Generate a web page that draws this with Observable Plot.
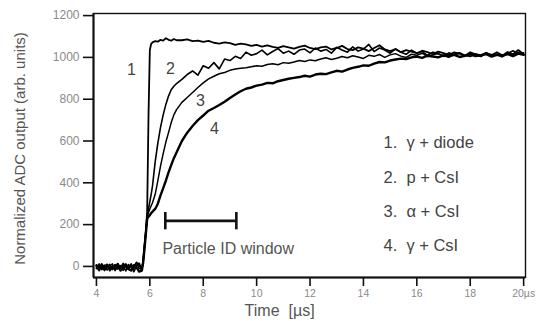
<!DOCTYPE html>
<html><head><meta charset="utf-8">
<script src="https://cdn.jsdelivr.net/npm/d3@7"></script>
<script src="https://cdn.jsdelivr.net/npm/@observablehq/plot@0.6"></script>
<style>body{margin:0;background:#fff;} #chart svg{display:block;}</style>
</head><body><div id="chart"></div>
<script>
// Sample times (µs)
const time = [
  4.0,4.1,4.2,4.3,4.4,4.5,4.6,4.7,4.8,4.9,5.0,5.1,5.2,5.3,5.4,5.5,5.6,
  5.7,5.75,5.8,5.85,5.9,5.95,6.0,6.05,6.1,6.2,6.3,6.4,6.5,6.6,6.7,6.8,6.9,7.0,
  7.2,7.4,7.6,7.8,8.0,8.2,8.4,8.6,8.8,9.0,
  9.2,9.4,9.6,9.8,10.0,10.2,10.4,10.6,10.8,11.0,
  11.2,11.4,11.6,11.8,12.0,12.2,12.4,12.6,12.8,13.0,
  13.2,13.4,13.6,13.8,14.0,14.2,14.4,14.6,14.8,15.0,
  15.2,15.4,15.6,15.8,16.0,16.2,16.4,16.6,16.8,17.0,
  17.2,17.4,17.6,17.8,18.0,18.2,18.4,18.6,18.8,19.0,
  19.2,19.4,19.6,19.8,20.0
];
// 1. gamma + diode
const gammaDiode = [
  -10,5,-15,0,10,-20,-5,8,-12,3,-18,6,-8,12,-25,4,15,
  -15,30,100,170,260,720,1035,1065,1072,1078,1075,1084,1080,1092,1084,1080,1088,1082,
  1082,1086,1078,1080,1074,1079,1070,1066,1072,1068,
  1060,1066,1062,1055,1060,1052,1058,1050,1046,1054,
  1048,1042,1050,1056,1045,1040,1048,1052,1038,1045,
  1055,1040,1035,1048,1042,1030,1045,1058,1038,1030,
  1040,1025,1035,1028,1020,1032,1025,1015,1028,1020,
  1012,1024,1018,1008,1020,1014,1005,1022,1010,1016,
  1008,1026,1015,1035,1015
];
// 2. p + CsI
const protonCsI = [
  8,-12,3,-20,-2,10,-15,0,14,-10,5,-22,9,-5,2,18,-10,
  -12,25,95,165,240,275,310,345,385,500,590,665,725,775,815,845,862,875,
  895,918,935,915,960,948,975,945,992,985,
  1005,995,1025,1010,1018,1035,1012,1028,1042,1020,
  1030,1015,1035,1040,1022,1045,1030,1038,1020,1048,
  1035,1025,1050,1030,1040,1062,1028,1045,1035,1020,
  1040,1025,1015,1035,1020,1028,1010,1025,1018,1005,
  1022,1012,1020,1008,1025,1015,1005,1020,1012,1025,
  1010,1018,1032,1015,1022
];
// 3. alpha + CsI
const alphaCsI = [
  -5,12,-8,6,-18,2,12,-20,4,-6,15,-3,-15,8,-10,20,5,
  -18,22,90,160,235,258,275,290,305,345,410,480,540,595,640,688,725,750,
  785,808,832,856,878,897,910,922,928,938,
  944,948,950,955,960,958,966,970,965,975,
  972,978,985,980,988,984,992,998,990,996,
  1004,998,1008,1002,995,1010,1005,1014,1000,1012,
  1018,1006,1000,1015,1010,1020,1004,1012,1018,1008,
  1000,1015,1022,1010,1004,1016,1012,1022,1006,1014,
  1002,1018,1010,1024,1012
];
// 4. gamma + CsI
const gammaCsI = [
  3,-18,10,-10,6,-8,0,-14,10,-20,0,10,-12,-20,6,-5,-25,
  -20,18,85,155,228,238,245,255,262,275,300,340,375,410,450,485,518,545,
  600,640,672,700,722,745,758,772,788,806,
  822,838,850,856,865,870,878,876,886,892,
  898,902,906,912,908,918,922,920,928,936,
  932,942,950,955,962,960,970,978,976,985,
  990,994,992,1000,1004,998,1008,1004,1000,1010,
  1006,1012,1002,1008,1014,1006,1010,1016,1004,1012,
  1008,1016,1006,1018,1012
];

const xTicks = [4, 6, 8, 10, 12, 14, 16, 18, 20];
const yTicks = [0, 200, 400, 600, 800, 1000, 1200];

const curveNumbers = ["1", "2", "3", "4"];
const curveNumberT = [5.31, 6.77, 7.9, 8.42];
const curveNumberV = [938, 947, 794, 660];

const legendItems = ["1.  \u03b3 + diode", "2.  p + CsI", "3.  \u03b1 + CsI", "4.  \u03b3 + CsI"];
const legendT = [14.75, 14.75, 14.75, 14.75];
const legendV = [590, 422, 263, 100];

const windowRange = [6.58, 9.24];
const windowLevel = 218;
const windowCap = [175, 258];
const windowText = "Particle ID window";

const series = [
  {name: "1", values: gammaDiode, w: 1.8},
  {name: "2", values: protonCsI, w: 1.6},
  {name: "3", values: alphaCsI, w: 1.5},
  {name: "4", values: gammaCsI, w: 2.4}
];

const x0 = 3.89, x1 = 20.07, y0 = -53, y1 = 1210;
const font = "'Liberation Sans', Arial, sans-serif";

const lineMarks = series.map(s =>
  Plot.line(time.map((t, i) => ({t, v: s.values[i]})), {x: "t", y: "v", stroke: "#000", strokeWidth: s.w, strokeLinejoin: "round"})
);

const chart = Plot.plot({
  width: 540, height: 321,
  marginLeft: 93, marginRight: 15, marginTop: 13, marginBottom: 44,
  x: {domain: [x0, x1]},
  y: {domain: [y0, y1]},
  style: {fontFamily: font, background: "#fff", overflow: "visible"},
  marks: [
    Plot.frame({stroke: "#111", strokeWidth: 1.4}),
    ...lineMarks,
    Plot.ruleX([x0], {stroke: "#111", strokeWidth: 2}),
    Plot.ruleY([y0], {stroke: "#111", strokeWidth: 2}),
    Plot.axisX({ticks: xTicks, tickSize: 9, tickPadding: 3, tickFormat: d => d === 20 ? "20\u00b5s" : String(d), fontSize: 10.5, fill: "#8a8a8a", stroke: "#111", strokeWidth: 1.6, label: null}),
    Plot.axisY({ticks: yTicks, tickSize: 10, tickPadding: 4, tickFormat: d => String(d), fontSize: 12, fill: "#8a8a8a", stroke: "#111", strokeWidth: 1.6, label: null}),
    Plot.text(["Time  [\u00b5s]"], {x: [10.86], frameAnchor: "bottom", dy: 38, fontSize: 16, fill: "#555"}),
    Plot.text(["Normalized ADC output (arb. units)"], {frameAnchor: "left", textAnchor: "middle", dx: -73, dy: 3, rotate: -90, fontSize: 15, fill: "#555"}),
    Plot.text(curveNumbers, {x: (d, i) => curveNumberT[i], y: (d, i) => curveNumberV[i], text: d => d, fontSize: 16, fill: "#444"}),
    Plot.text(legendItems, {x: (d, i) => legendT[i], y: (d, i) => legendV[i], text: d => d, textAnchor: "start", fontSize: 16.5, fill: "#444"}),
    Plot.ruleY([windowLevel], {x1: windowRange[0], x2: windowRange[1], stroke: "#111", strokeWidth: 2.6}),
    Plot.ruleX(windowRange, {y1: windowCap[0], y2: windowCap[1], stroke: "#111", strokeWidth: 2.6}),
    Plot.text([windowText], {x: [windowRange[0] - 0.11], y: [86], textAnchor: "start", fontSize: 16, fill: "#555"})
  ]
});
document.getElementById("chart").appendChild(chart);
</script>
</body></html>
